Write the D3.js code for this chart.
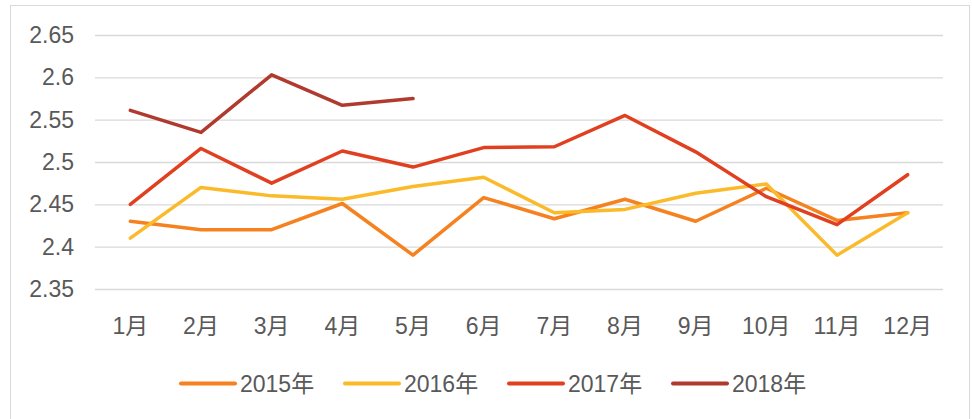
<!DOCTYPE html>
<html>
<head>
<meta charset="utf-8">
<script src="https://cdn.jsdelivr.net/npm/d3@7"></script>
<style>
  body { margin: 0; background: #fff; }
  text { font-family: "Liberation Sans", Arial, "Noto Sans CJK SC", sans-serif; }
</style>
</head>
<body>
<div id="chart"></div>
<script>
var months = ["1月","2月","3月","4月","5月","6月","7月","8月","9月","10月","11月","12月"];
var yTicks = [2.35, 2.4, 2.45, 2.5, 2.55, 2.6, 2.65];
var seriesNames = ["2015年","2016年","2017年","2018年"];
var seriesColors = ["#F5811F","#FBBA2A","#E04020","#B03A2E"];

var v2015 = [2.43, 2.42, 2.42, 2.451, 2.39, 2.458, 2.433, 2.456, 2.43, 2.469, 2.431, 2.44];
var v2016 = [2.41, 2.47, 2.46, 2.456, 2.471, 2.482, 2.44, 2.444, 2.463, 2.474, 2.39, 2.44];
var v2017 = [2.45, 2.516, 2.475, 2.513, 2.494, 2.517, 2.518, 2.555, 2.512, 2.459, 2.426, 2.485];
var v2018 = [2.561, 2.535, 2.603, 2.567, 2.575];

var allSeries = [v2015, v2016, v2017, v2018];

function create_container(){
  var svg = d3.select("#chart").append("svg")
    .attr("width", 972)
    .attr("height", 419);

  svg.append("rect")
    .attr("x", 10.5)
    .attr("y", 5.5)
    .attr("width", 959)
    .attr("height", 430)
    .attr("fill", "#fff")
    .attr("stroke", "#d9d9d9")
    .attr("stroke-width", 1);

  draw_chart(svg);
  draw_legend(svg);
  return svg;
}

function draw_chart(svg){
  var left = 95, right = 943, top = 35, bottom = 289;

  var x = d3.scaleBand().domain(months).range([left, right]);
  var y = d3.scaleLinear().domain([2.35, 2.65]).range([bottom, top]);

  var yaxis = svg.append("g")
    .attr("transform", "translate(" + left + ",0)")
    .call(d3.axisLeft(y).tickValues(yTicks).tickSize(-(right - left)).tickPadding(21).tickFormat(d3.format("")));
  yaxis.select(".domain").remove();
  yaxis.selectAll(".tick line")
    .attr("stroke", "#d9d9d9")
    .attr("stroke-width", 1.3);
  yaxis.selectAll(".tick text")
    .style("font-size", "23px")
    .attr("fill", "#595959");

  var xaxis = svg.append("g")
    .attr("transform", "translate(0," + bottom + ")")
    .call(d3.axisBottom(x).tickSize(0).tickPadding(0));
  xaxis.select(".domain").remove();
  xaxis.selectAll(".tick text")
    .attr("y", 37)
    .attr("dy", "0.35em")
    .style("font-size", "23px")
    .attr("fill", "#595959");

  var line = d3.line()
    .x(function(d, i){ return x(months[i]) + x.bandwidth() / 2; })
    .y(function(d){ return y(d); });

  allSeries.forEach(function(s, i){
    svg.append("path")
      .datum(s)
      .attr("d", line)
      .attr("fill", "none")
      .attr("stroke", seriesColors[i])
      .attr("stroke-width", 3.5)
      .attr("stroke-linejoin", "round")
      .attr("stroke-linecap", "round");
  });
}

function draw_legend(svg){
  var lx = d3.scalePoint().domain(seriesNames).range([181, 673]);
  var ly = 383.5;

  seriesNames.forEach(function(name, i){
    svg.append("line")
      .attr("x1", lx(name))
      .attr("y1", ly)
      .attr("x2", lx(name) + 54)
      .attr("y2", ly)
      .attr("stroke", seriesColors[i])
      .attr("stroke-width", 4)
      .attr("stroke-linecap", "round");

    svg.append("text")
      .attr("x", lx(name) + 59)
      .attr("y", ly)
      .attr("dy", "0.35em")
      .style("font-size", "23px")
      .style("fill", "#595959")
      .text(name);
  });
}

create_container();
</script>
</body>
</html>
